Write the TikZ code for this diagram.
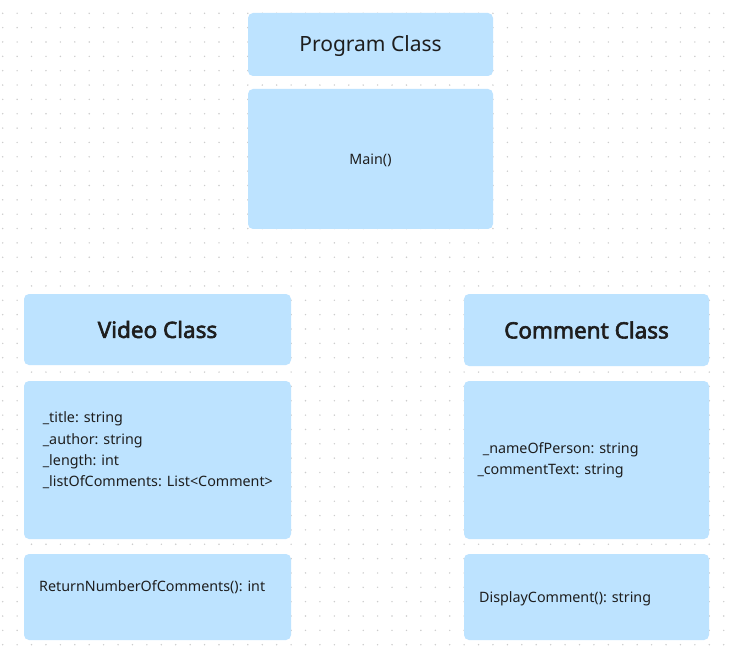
\documentclass[tikz,border=0pt]{standalone}
\usepackage{fontspec}
\setmainfont{Noto Sans}
\newfontfamily\headbold{Noto Sans}[FakeBold=2.6]
\definecolor{boxblue}{HTML}{BDE3FF}
\definecolor{inkgray}{HTML}{1E1E1E}
\definecolor{dotgray}{HTML}{CCCCCC}
\begin{document}
\begin{tikzpicture}[x=1pt,y=-1pt,
    classbox/.style={fill=boxblue, draw=none, rounded corners=5pt, inner sep=0pt, text=inkgray},
    headtext/.style={font=\fontsize{21}{25}\selectfont, text height=15pt, text depth=0pt},
    boldhead/.style={font=\headbold\fontsize{22.5}{26}\selectfont},
    membertext/.style={font=\fontsize{14.3}{21.3}\selectfont, text=inkgray, inner sep=0pt, align=left}]
    \useasboundingbox (0,0) rectangle (737,658);
    \fill[white] (0,0) rectangle (737,658);
    \foreach \i in {0,...,50}
      \foreach \j in {0,...,44}
        \fill[dotgray] (2.7+14.42*\i, 13.3+14.35*\j) circle (0.8);
    \node[classbox, headtext, minimum width=245pt, minimum height=63pt] (progHead) at (370.5,44.5) {Program Class};
    \node[classbox, minimum width=245pt, minimum height=140pt] (progBody) at (370.5,159) {};
    \node[membertext, anchor=base] (progMain) at (370.5,165) {Main()};
    \node[classbox, boldhead, minimum width=267pt, minimum height=71pt] (videoHead) at (157.5,329.5) {Video Class};
    \node[classbox, minimum width=267pt, minimum height=158pt] (videoBody) at (157.5,460) {};
    \node[classbox, minimum width=267pt, minimum height=86pt] (videoOps) at (157.5,597) {};
    \node[membertext, anchor=base west] (videoAttr) at (42.7,486.7) {\_title: string\\\_author: string\\\_length: int\\\_listOfComments: List<Comment>};
    \node[membertext, anchor=base west] (videoCount) at (39,591.7) {ReturnNumberOfComments(): int};
    \node[classbox, boldhead, minimum width=245pt, minimum height=72pt] (commentHead) at (586.5,330) {Comment Class};
    \node[classbox, minimum width=245pt, minimum height=158pt] (commentBody) at (586.5,460) {};
    \node[classbox, minimum width=245pt, minimum height=86pt] (commentOps) at (586.5,597) {};
    \node[membertext, anchor=base west] (commentAttr) at (477.3,474.3) {\hspace{5.4pt}\_nameOfPerson: string\\\_commentText: string};
    \node[membertext, anchor=base west] (commentShow) at (479,602.7) {DisplayComment(): string};
\end{tikzpicture}
\end{document}
